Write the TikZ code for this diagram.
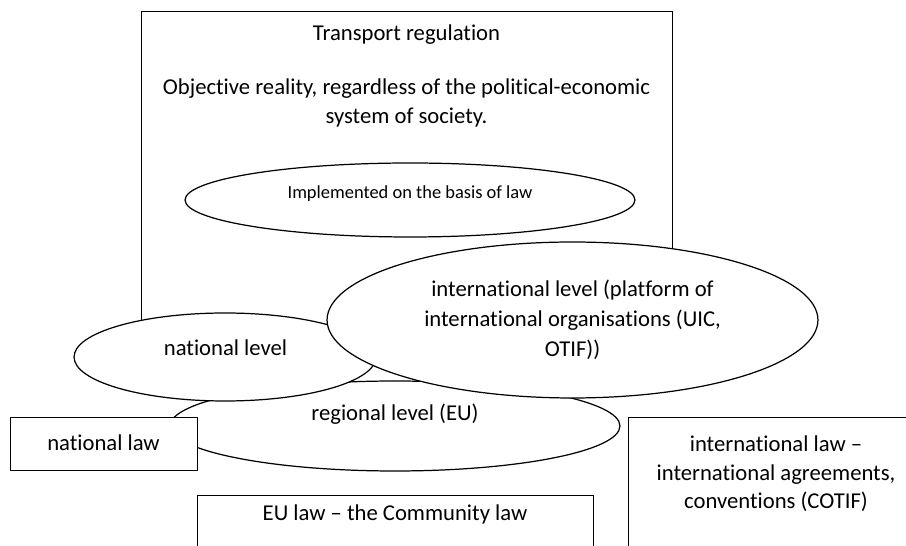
\documentclass[tikz,border=0pt]{standalone}
\usepackage{fontspec}
\setmainfont{Carlito}[Ligatures=NoCommon]
\usetikzlibrary{shapes.geometric,positioning}

\tikzset{
  sheet/.style={draw, line width=0.7pt, fill=white, inner sep=0pt},
  oval/.style={sheet, ellipse},
  txt/.style={align=center, inner sep=0pt, font=\fontsize{12.9}{17}\selectfont},
  smalltxt/.style={txt, font=\fontsize{10.5}{13}\selectfont},
}

\begin{document}
\begin{tikzpicture}[x=0.02cm, y=-0.02cm]
    \useasboundingbox (0,0) rectangle (906,546);
    \clip (0,0) rectangle (906,546);
    % outer frame
    \node[sheet, anchor=north west, minimum width=10.62cm, minimum height=7.4cm] (regulation) at (141,11) {};
    \node[txt] (title) at (406.5,35) {Transport regulation};
    \node[txt] (reality) at (406.5,103) {Objective reality, regardless of the political-economic\\system of society.};
    \node[oval, minimum width=9cm, minimum height=1.48cm] (basis) at (410,200) {};
    \node[smalltxt] (basisText) at (410,194) {Implemented on the basis of law};
    % levels
    \node[oval, minimum width=9cm, minimum height=1.8cm] (regional) at (395,426) {};
    \node[txt] (regionalText) at (395,414) {regional level (EU)};
    \node[oval, minimum width=6.04cm, minimum height=1.76cm] (national) at (225,357) {};
    \node[txt] (nationalText) at (225.5,348) {national level};
    \node[oval, minimum width=9.82cm, minimum height=3.12cm] (international) at (572.5,320) {};
    \node[txt] (internationalText) at (572.5,320) {international level (platform of\\international organisations (UIC,\\OTIF))};
    % sources of law
    \node[sheet, anchor=north west, minimum width=3.74cm, minimum height=1.06cm] (natlaw) at (10,417) {};
    \node[txt] (natlawText) at (103.5,443) {national law};
    \node[sheet, anchor=north west, minimum width=7.92cm, minimum height=1.3cm] (eulaw) at (197,495) {};
    \node[txt] (eulawText) at (395,514) {EU law -- the Community law};
    \node[sheet, anchor=north west, minimum width=5.92cm, minimum height=3cm] (intlaw) at (628,417) {};
    \node[txt, font=\fontsize{12.9}{16.2}\selectfont] (intlawText) at (776,474) {international law --\\international agreements,\\conventions (COTIF)};
\end{tikzpicture}
\end{document}
